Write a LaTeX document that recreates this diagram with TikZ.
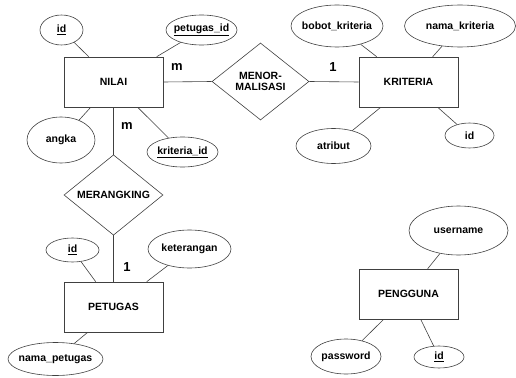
\documentclass[tikz,border=0pt]{standalone}
\usepackage{fontspec}
\setmainfont{Liberation Sans}
\usetikzlibrary{shapes.geometric,calc}
\newcommand{\zw}[1]{\makebox[0pt]{#1}}
\begin{document}
\begin{tikzpicture}[x=1pt,y=-1pt,
  ent/.style={draw=black!75, line width=0.6pt, rectangle, minimum width=99pt, minimum height=50pt, inner sep=0pt, font=\fontsize{10.5}{12}\selectfont\bfseries},
  attr/.style={draw=black!75, line width=0.6pt, ellipse, inner sep=0pt, font=\fontsize{10.5}{12}\selectfont\bfseries},
  rel/.style={draw=black!75, line width=0.6pt, diamond, inner sep=0pt, align=center, font=\fontsize{10.5}{12}\selectfont\bfseries},
  lnk/.style={draw=black!75, line width=0.6pt},
  card/.style={inner sep=0pt, font=\fontsize{13}{15}\selectfont\bfseries}
]
\useasboundingbox (0,0) rectangle (516,377);

% entities
\node[ent] (nilai) at (113.5,82) {NILAI};
\node[ent] (kriteria) at (408.5,82) {KRITERIA};
\node[ent] (petugas) at (113.5,307) {PETUGAS};
\node[ent] (pengguna) at (408.5,294) {PENGGUNA};

% relationships
\node[rel, minimum width=97pt, minimum height=77pt] (menor) at (260.5,81.5) {MENOR-\\[-1pt]MALISASI};
\node[rel, minimum width=99pt, minimum height=76pt] (merang) at (113.5,195) {MERANGKING};

% attributes of NILAI
\node[attr, minimum width=43pt, minimum height=30pt] (nid) at (61.5,30) {\zw{\underline{id}}};
\node[attr, minimum width=71pt, minimum height=30pt] (npid) at (201.5,30) {\zw{\underline{petugas\_id}}};
\node[attr, minimum width=68pt, minimum height=46pt] (angka) at (61,140) {\zw{angka}};
\node[attr, minimum width=71pt, minimum height=30pt] (nkid) at (182.5,152) {\zw{\underline{kriteria\_id}}};

% attributes of KRITERIA
\node[attr, minimum width=92pt, minimum height=42pt] (bobot) at (337,26) {\zw{bobot\_kriteria}};
\node[attr, minimum width=111pt, minimum height=42pt] (namak) at (460,26) {\zw{nama\_kriteria}};
\node[attr, minimum width=75pt, minimum height=35pt] (atribut) at (333.5,146) {\zw{atribut}};
\node[attr, minimum width=49pt, minimum height=25pt] (kid) at (469.5,135.5) {\zw{id}};

% attributes of PETUGAS
\node[attr, minimum width=53pt, minimum height=24pt] (pid) at (72.5,250) {\zw{\underline{id}}};
\node[attr, minimum width=83pt, minimum height=38pt] (ket) at (189.5,249) {\zw{keterangan}};
\node[attr, minimum width=95pt, minimum height=33pt] (namap) at (55.5,359) {\zw{nama\_petugas}};

% attributes of PENGGUNA
\node[attr, minimum width=99pt, minimum height=49pt] (user) at (458.5,230.5) {\zw{username}};
\node[attr, minimum width=70pt, minimum height=35pt] (pass) at (346,356.5) {\zw{password}};
\node[attr, minimum width=50pt, minimum height=22pt] (gid) at (439,357) {\zw{\underline{id}}};

% cardinalities
\node[card] (c1) at (177,67) {m};
\node[card] (c2) at (333,67) {1};
\node[card] (c3) at (127,126) {m};
\node[card] (c4) at (127,267) {1};

% relationship links
\draw[lnk] (nilai.east) -- (menor.west);
\draw[lnk] (menor.east) -- (kriteria.west);
\draw[lnk] (nilai.south) -- (merang.north);
\draw[lnk] (merang.south) -- (petugas.north);

% attribute links
\draw[lnk] ($(nilai.north west)+(25,0)$) -- (nid);
\draw[lnk] ($(nilai.north west)+(93,0)$) -- (npid);
\draw[lnk] ($(nilai.south west)+(27,0)$) -- (angka);
\draw[lnk] ($(nilai.south west)+(74,0)$) -- (nkid);

\draw[lnk] ($(kriteria.north west)+(18,0)$) -- (bobot);
\draw[lnk] ($(kriteria.north west)+(74,0)$) -- (namak);
\draw[lnk] ($(kriteria.south west)+(22,0)$) -- (atribut);
\draw[lnk] ($(kriteria.south west)+(79,0)$) -- (kid);

\draw[lnk] ($(petugas.north west)+(32,0)$) -- (pid);
\draw[lnk] ($(petugas.north west)+(83,0)$) -- (ket);
\draw[lnk] ($(petugas.south west)+(24,0)$) -- (namap);

\draw[lnk] ($(pengguna.north west)+(69,0)$) -- (user);
\draw[lnk] ($(pengguna.south west)+(25,0)$) -- (pass);
\draw[lnk] ($(pengguna.south west)+(62,0)$) -- (gid);
\end{tikzpicture}
\end{document}
